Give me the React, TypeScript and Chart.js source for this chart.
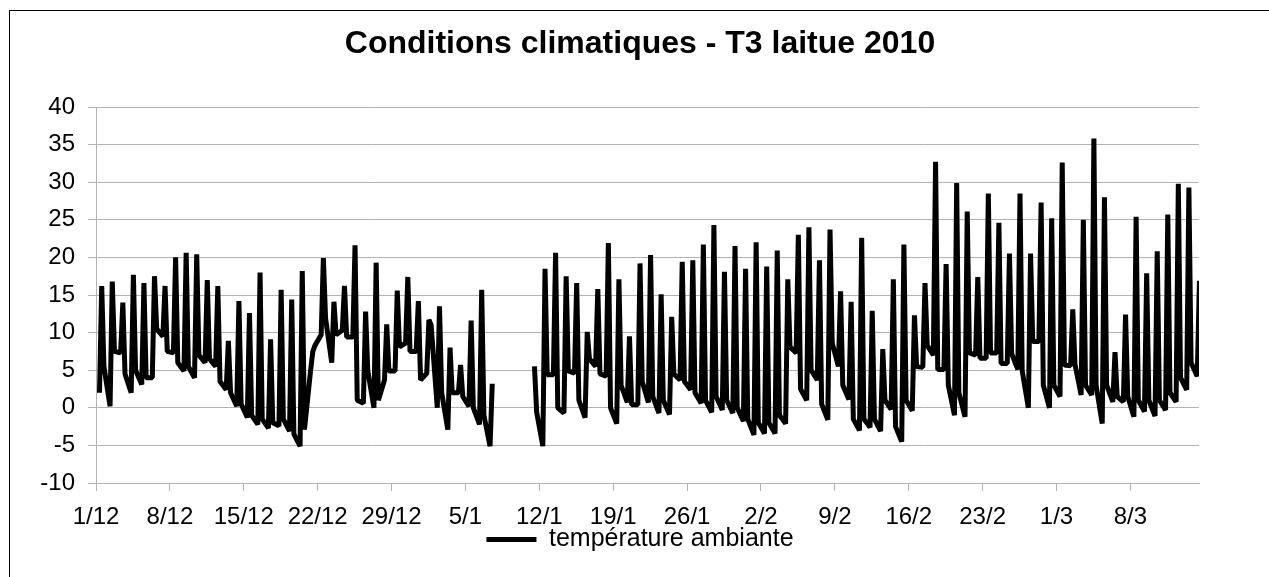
import React, { useEffect, useRef } from 'react';
import { Chart, registerables } from 'chart.js';

Chart.register(...registerables);

const TITLE = 'Conditions climatiques - T3 laitue 2010';
const SERIES_NAME = 'température ambiante';
const TICK_LABELS = ['1/12', '8/12', '15/12', '22/12', '29/12', '5/1', '12/1', '19/1', '26/1', '2/2', '9/2', '16/2', '23/2', '1/3', '8/3'];
const TICK_STEP_DAYS = 7;
const X_MAX_DAYS = 104.5;
const Y_MIN = -10;
const Y_MAX = 40;
const Y_STEP = 5;

// hour of the day of each reading (morning, midday, evening)
const SAMPLE_HOURS = [8, 13, 18];

// readings per day, day 0 = 1/12
const T_MORNING: (number | null)[] = [
  2.0, 0.2, 7.3, 2.0, 3.1, 4.0, 9.5, 7.3, 4.9, 4.0,
  6.0, 5.5, 2.4, 0.2, -1.3, -2.2, -2.7, -2.4, -3.1, -5.1,
  5.0, 9.7, 6.0, 10.3, 9.4, 0.6, 0.0, 3.7, 4.9, 8.6,
  7.5, 4.6, 0.0, -2.9, 2.0, 0.2, -2.2, -5.1, null, null,
  null, null, -5.1, 4.4, -0.7, 4.6, -1.3, 5.5, 4.2, -2.1,
  0.7, 0.4, 0.7, -0.7, -0.9, 3.7, 2.4, 0.6, -0.6, -0.3,
  -0.7, -1.8, -3.6, -3.4, -3.4, -2.1, 7.3, 1.0, 3.7, -1.6,
  5.5, 1.1, -3.0, -2.6, -3.1, -0.2, -4.5, -0.4, 5.4, 7.0,
  5.1, -1.0, -1.2, 7.0, 6.6, 7.3, 5.9, 5.1, 0.0, 8.8,
  0.0, 1.5, 5.6, 1.7, 1.7, -2.1, 0.8, 0.8, -1.2, -0.5,
  -1.1, -0.3, 0.8, 2.4, 4.2,
];
const T_MIDDAY: (number | null)[] = [
  16.2, 16.8, 14.0, 17.7, 16.6, 17.5, 16.2, 20.0, 20.6, 20.4,
  17.0, 16.2, 8.9, 14.2, 12.6, 18.0, 9.1, 15.7, 14.4, 18.2,
  7.5, 19.9, 14.1, 16.2, 21.6, 12.8, 19.3, 11.1, 15.6, 17.4,
  14.2, 11.7, 13.5, 8.0, 5.7, 11.6, 15.7, 3.2, null, null,
  null, 5.5, 18.5, 20.6, 17.5, 16.6, 10.1, 15.8, 21.9, 17.1,
  9.5, 19.2, 20.3, 15.1, 12.1, 19.4, 19.6, 21.7, 24.3, 18.1,
  21.5, 18.5, 22.0, 18.8, 20.9, 17.1, 23.0, 24.0, 19.6, 23.7,
  15.5, 14.1, 22.6, 12.9, 7.8, 17.1, 21.7, 12.3, 16.6, 32.7,
  19.1, 29.9, 26.1, 17.4, 28.5, 24.6, 20.5, 28.5, 20.5, 27.3,
  25.2, 32.6, 13.1, 25.0, 35.8, 28.0, 7.4, 12.4, 25.4, 17.9,
  20.8, 25.7, 29.8, 29.3, 16.9,
];
const T_EVENING: (number | null)[] = [
  5.5, 7.5, 4.5, 5.0, 4.0, 10.5, 7.5, 6.0, 5.5, 7.0,
  6.5, 3.5, 2.0, 0.5, -1.0, -1.5, -2.0, -1.5, -3.5, -2.9,
  8.3, 11.9, 9.7, 9.4, 1.0, 4.9, 1.0, 4.9, 8.1, 7.5,
  3.7, 11.0, 2.0, 2.0, 1.5, 0.0, -1.0, null, null, null,
  null, -0.6, 4.4, 0.0, 4.9, 1.0, 6.5, 4.5, 0.0, 3.0,
  0.4, 3.5, 1.5, 1.0, 4.5, 3.5, 2.0, 1.0, 1.5, 1.0,
  0.0, -1.5, -2.0, -2.0, -1.0, 8.1, 2.5, 5.0, 0.5, 8.6,
  3.0, -1.5, -1.5, -1.5, 1.0, -2.5, 1.0, 5.5, 8.3, 5.1,
  3.0, 2.0, 7.3, 6.6, 7.3, 5.9, 7.2, 4.9, 8.8, 3.0,
  3.0, 5.7, 5.8, 3.0, 3.0, 3.0, 1.5, 1.5, 1.0, 1.0,
  1.0, 2.0, 4.0, 6.0, null,
];

const FONT = '"Liberation Sans", Arial, sans-serif';
const GRID = '#b3b3b3';

function buildPoints() {
  const pts: { x: number; y: number | null }[] = [];
  const series = [T_MORNING, T_MIDDAY, T_EVENING];
  for (let d = 0; d < T_MORNING.length; d++) {
    series.forEach((arr, k) => {
      pts.push({ x: d + SAMPLE_HOURS[k] / 24, y: arr[d] });
    });
  }
  return pts;
}

export default function App() {
  const ref = useRef<HTMLCanvasElement | null>(null);

  useEffect(() => {
    if (!ref.current) return;
    const chart = new Chart(ref.current, {
      type: 'line',
      data: {
        datasets: [
          {
            label: SERIES_NAME,
            data: buildPoints() as any,
            borderColor: '#000',
            backgroundColor: '#000',
            borderWidth: 5,
            pointRadius: 0,
            pointHoverRadius: 0,
            tension: 0,
            borderJoinStyle: 'bevel',
            borderCapStyle: 'butt',
            spanGaps: false,
            fill: false,
          },
        ],
      },
      options: {
        animation: false,
        responsive: false,
        maintainAspectRatio: false,
        events: [],
        layout: { padding: { left: 11, right: 0, top: 0, bottom: 15 } },
        plugins: {
          title: {
            display: true,
            text: TITLE,
            color: '#000',
            font: { family: FONT, size: 32, weight: 'bold' },
            padding: { top: 25, bottom: 43.6 },
          },
          legend: {
            display: true,
            position: 'bottom',
            labels: {
              boxWidth: 50,
              boxHeight: 5,
              padding: 0,
              color: '#000',
              font: { family: FONT, size: 25 },
              generateLabels: () => [
                {
                  text: SERIES_NAME,
                  fillStyle: '#000',
                  strokeStyle: '#000',
                  lineWidth: 0,
                  hidden: false,
                  datasetIndex: 0,
                } as any,
              ],
            },
          },
          tooltip: { enabled: false },
        },
        scales: {
          x: {
            type: 'linear',
            min: 0,
            max: X_MAX_DAYS,
            afterBuildTicks: (s: any) => {
              s.ticks = TICK_LABELS.map((_, i) => ({ value: i * TICK_STEP_DAYS }));
            },
            afterFit: (s: any) => {
              s.height = 44;
              s.paddingLeft = 0;
              s.paddingRight = 70;
            },
            ticks: {
              autoSkip: false,
              maxRotation: 0,
              minRotation: 0,
              padding: 12,
              color: '#000',
              font: { family: FONT, size: 24 },
              callback: (v: any) => TICK_LABELS[Math.round(Number(v) / TICK_STEP_DAYS)] ?? '',
            },
            grid: { drawOnChartArea: false, drawTicks: true, tickLength: 8, color: GRID },
            border: { display: true, color: GRID },
          },
          y: {
            min: Y_MIN,
            max: Y_MAX,
            afterFit: (s: any) => {
              s.width = 85;
            },
            ticks: {
              stepSize: Y_STEP,
              padding: 13,
              color: '#000',
              font: { family: FONT, size: 24 },
            },
            grid: { color: GRID, tickLength: 8 },
            border: { display: true, color: GRID },
          },
        },
      },
    });
    return () => chart.destroy();
  }, []);

  return (
    <div
      style={{
        position: 'fixed',
        left: 0,
        top: 0,
        width: 1269,
        height: 577,
        overflow: 'hidden',
        background: '#fff',
      }}
    >
      <div
        style={{
          position: 'absolute',
          left: 9,
          top: 10,
          width: 2000,
          height: 2000,
          borderLeft: '1px solid #000',
          borderTop: '1px solid #000',
        }}
      />
      <canvas
        ref={ref}
        width={1269}
        height={577}
        style={{ position: 'absolute', left: 0, top: 0, width: 1269, height: 577 }}
      />
    </div>
  );
}
